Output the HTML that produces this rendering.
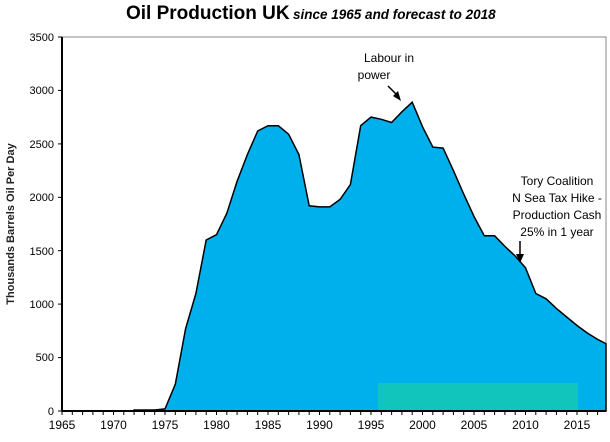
<!DOCTYPE html>
<html><head><style>body{margin:0;background:#fff;}svg{display:block;font-family:"Liberation Sans",Arial,sans-serif;}</style></head>
<body>
<svg width="610" height="442" viewBox="0 0 610 442">
<text x="126" y="19" font-size="19" font-weight="bold">Oil Production UK</text>
<text x="293" y="19" font-size="13.5" font-weight="bold" font-style="italic">since 1965 and forecast to 2018</text>
<rect x="62" y="37" width="544" height="374" fill="none" stroke="#888" stroke-width="1"/>
<polygon fill="#00b0ec" stroke="#000" stroke-width="1.5" points="62,411 134.1,411 134.1,410 154.7,410 165,408.9 175.3,384.3 185.6,328.7 195.9,293.5 206.2,240 216.5,234.7 226.8,213.3 237.1,181.3 247.4,154.5 257.7,131 268,125.7 278.3,125.7 288.6,134.2 298.9,154.5 309.2,205.8 319.5,206.9 329.8,206.9 340.1,199.4 350.4,184.5 360.7,125.7 371,117.1 381.3,119.3 391.6,122.5 401.9,111.8 412.2,102.2 422.5,126.7 432.8,147.1 443.1,148.1 453.4,170.6 463.7,194.1 474,216.5 484.3,235.7 494.6,235.7 504.9,246.4 515.2,256 525.5,267.8 535.8,293.5 546.1,298.8 556.4,308.4 566.7,317 577,325.5 587.3,333 597.6,339.4 606,343.7 606,411"/>
<rect x="378" y="383" width="200" height="28" fill="#14c8b4" opacity="0.85"/>
<line x1="62" y1="37" x2="62" y2="411" stroke="#000" stroke-width="2"/>
<line x1="62" y1="411" x2="606" y2="411" stroke="#000" stroke-width="2"/>
<g stroke="#000" stroke-width="1">
<line x1="58" y1="37" x2="62" y2="37"/><line x1="58" y1="90.4" x2="62" y2="90.4"/><line x1="58" y1="143.9" x2="62" y2="143.9"/><line x1="58" y1="197.3" x2="62" y2="197.3"/><line x1="58" y1="250.7" x2="62" y2="250.7"/><line x1="58" y1="304.1" x2="62" y2="304.1"/><line x1="58" y1="357.6" x2="62" y2="357.6"/><line x1="58" y1="411" x2="62" y2="411"/>
</g>
<g font-size="11" text-anchor="end">
<text x="54" y="41">3500</text><text x="54" y="94">3000</text><text x="54" y="148">2500</text><text x="54" y="201">2000</text><text x="54" y="255">1500</text><text x="54" y="308">1000</text><text x="54" y="361">500</text><text x="54" y="415">0</text>
</g>
<g stroke="#000" stroke-width="1">
<path d="M62 411v4M72.3 411v4M82.6 411v4M92.9 411v4M103.2 411v4M113.5 411v4M123.8 411v4M134.1 411v4M144.4 411v4M154.7 411v4M165 411v4M175.3 411v4M185.6 411v4M195.9 411v4M206.2 411v4M216.5 411v4M226.8 411v4M237.1 411v4M247.4 411v4M257.7 411v4M268 411v4M278.3 411v4M288.6 411v4M298.9 411v4M309.2 411v4M319.5 411v4M329.8 411v4M340.1 411v4M350.4 411v4M360.7 411v4M371 411v4M381.3 411v4M391.6 411v4M401.9 411v4M412.2 411v4M422.5 411v4M432.8 411v4M443.1 411v4M453.4 411v4M463.7 411v4M474 411v4M484.3 411v4M494.6 411v4M504.9 411v4M515.2 411v4M525.5 411v4M535.8 411v4M546.1 411v4M556.4 411v4M566.7 411v4M577 411v4M587.3 411v4M597.6 411v4"/>
</g>
<g font-size="12" text-anchor="middle">
<text x="62" y="429">1965</text><text x="113.5" y="429">1970</text><text x="165" y="429">1975</text><text x="216.5" y="429">1980</text><text x="268" y="429">1985</text><text x="319.5" y="429">1990</text><text x="371" y="429">1995</text><text x="422.5" y="429">2000</text><text x="474" y="429">2005</text><text x="525.5" y="429">2010</text><text x="577" y="429">2015</text>
</g>
<text transform="translate(14,224) rotate(-90)" font-size="11" font-weight="bold" text-anchor="middle" fill="#222">Thousands Barrels Oil Per Day</text>
<g font-size="12" text-anchor="middle">
<text x="389" y="62">Labour in</text><text x="374" y="79">power</text>
<text x="557" y="185">Tory Coalition</text><text x="557" y="202">N Sea Tax Hike -</text><text x="557" y="219">Production Cash</text><text x="557" y="236">25% in 1 year</text>
</g>
<line x1="388" y1="86" x2="398" y2="96" stroke="#000" stroke-width="1.5"/>
<polygon points="401,101 393,96 398,91"/>
<line x1="520" y1="241" x2="520" y2="255" stroke="#000" stroke-width="1.5"/>
<polygon points="520,263 516,254 524,254"/>
</svg>
</body></html>
